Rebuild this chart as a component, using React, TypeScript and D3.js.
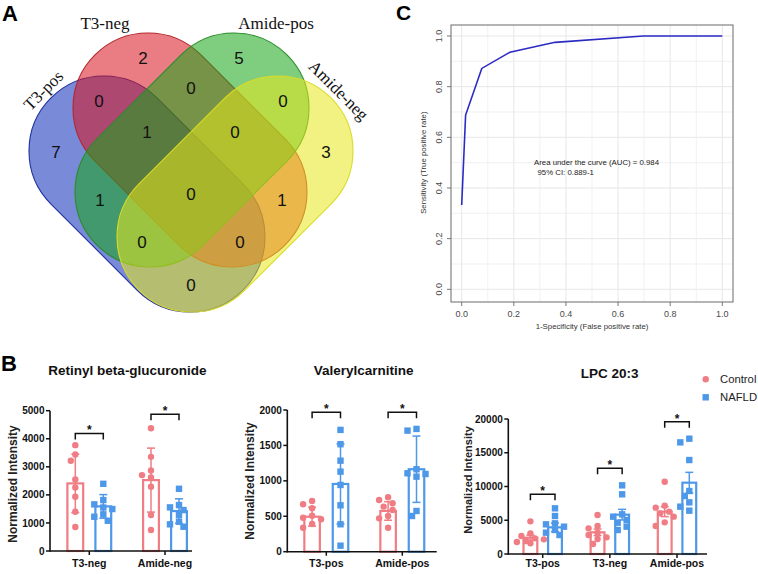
import React, { useMemo } from 'react';
import * as d3 from 'd3';

const W = 758;
const H = 574;
const SANS = "'Liberation Sans', Arial, Helvetica, sans-serif";
const SERIF = "'Liberation Serif', 'Times New Roman', serif";

// ---------------- Panel A: Venn ----------------
const vennSetNames = ['T3-pos', 'T3-neg', 'Amide-pos', 'Amide-neg'];
const vennRegionKeys = ['1000', '0100', '0010', '0001', '1100', '0110', '0011', '1010', '0101', '1110', '0111', '1111', '1011', '1101', '1001'];
const vennRegionCounts = [7, 2, 5, 3, 0, 0, 0, 1, 1, 1, 0, 0, 0, 0, 0];

// ---------------- Panel C: ROC ----------------
const rocFpr = [0, 0.015, 0.077, 0.185, 0.358, 0.697, 1.0];
const rocTpr = [0.333, 0.688, 0.872, 0.936, 0.975, 1.0, 1.0];
const rocTicks = [0, 0.2, 0.4, 0.6, 0.8, 1.0];
const rocAucLines = ['Area under the curve (AUC) = 0.984', '95% CI: 0.889-1'];

// ---------------- Panel B: bar charts ----------------
const groups = ['Control', 'NAFLD'];

const retinylCats = ['T3-neg', 'Amide-neg'];
const retinylControlPts = [[3772, 3441, 3214, 2552, 2267, 1932, 1399, 854], [4377, 3356, 2872, 2705, 2623, 2288, 1281, 747]];
const retinylNafldPts = [[2395, 1815, 1662, 1550, 1495, 1306, 1221, 1078], [2217, 1637, 1555, 1459, 1281, 1043, 950, 865]];
const retinylControlMean = [2409, 2527];
const retinylNafldMean = [1590, 1423];
const retinylControlErr = [1040, 1140];
const retinylNafldErr = [420, 437];
const retinylSig = [4190, 4870];

const valerylCats = ['T3-pos', 'Amide-pos'];
const valerylControlPts = [[716, 669, 613, 508, 480, 458, 391, 339], [768, 730, 684, 636, 589, 504, 471, 339]];
const valerylNafldPts = [[1719, 1517, 1285, 1130, 942, 655, 387, 85], [1733, 1709, 1164, 1107, 1097, 1059, 575, 504]];
const valerylControlMean = [494, 575];
const valerylNafldMean = [956, 1164];
const valerylControlErr = [133, 131];
const valerylNafldErr = [565, 468];
const valerylSig = [1970, 1970];

const lpcCats = ['T3-pos', 'T3-neg', 'Amide-pos'];
const lpcControlPts = [[4839, 3062, 2666, 2320, 2172, 1925, 1777, 1580], [5776, 4147, 3802, 3160, 2814, 2468, 2221, 1481], [10707, 7159, 6863, 6272, 6024, 5530, 4690, 4147]];
const lpcNafldPts = [[6765, 5628, 4542, 4395, 4049, 3555, 3160, 2814], [10174, 8842, 5876, 5530, 5036, 4642, 4049, 3555], [17081, 16538, 13920, 9330, 8590, 7652, 7010, 6418]];
const lpcControlMean = [2415, 3210, 6272];
const lpcNafldMean = [3951, 5827, 10568];
const lpcControlErr = [370, 485, 740];
const lpcNafldErr = [650, 790, 1530];
const lpcSig = [8850, 12700, 19600];

// ---------------- styles / layout ----------------
const CONTROL_COLOR = '#f07c84';
const NAFLD_COLOR = '#4d98e8';
const AXIS_COLOR = '#111';

const VCX = 191;
const VR = 75;
const vennCapsules = [
  { x1: VCX - 87, y1: 151, x2: VCX - 1, y2: 237, fill: '#0a2ab8', stroke: '#1c2f9e' },
  { x1: VCX - 43, y1: 108, x2: VCX + 41, y2: 192, fill: '#d8121e', stroke: '#b3262c' },
  { x1: VCX + 43, y1: 108, x2: VCX - 41, y2: 192, fill: '#16a616', stroke: '#2a8c2a' },
  { x1: VCX + 87, y1: 151, x2: VCX + 1, y2: 237, fill: '#e8e81c', stroke: '#dada2a' },
];

function capsuleSdf(px: number, py: number, c: any) {
  const dx = c.x2 - c.x1;
  const dy = c.y2 - c.y1;
  const l2 = dx * dx + dy * dy;
  let t = ((px - c.x1) * dx + (py - c.y1) * dy) / l2;
  t = Math.max(0, Math.min(1, t));
  const qx = c.x1 + t * dx - px;
  const qy = c.y1 + t * dy - py;
  return Math.sqrt(qx * qx + qy * qy) - VR;
}

function Venn() {
  const labelPos = useMemo(() => {
    const best: Record<string, { d: number; x: number; y: number }> = {};
    for (let py = 0; py < 330; py += 1) {
      for (let px = 0; px < 380; px += 1) {
        let key = '';
        let inner = Infinity;
        for (const c of vennCapsules) {
          const s = capsuleSdf(px, py, c);
          key += s < 0 ? '1' : '0';
          inner = Math.min(inner, Math.abs(s));
        }
        if (key === '0000') continue;
        if (!best[key] || inner > best[key].d) best[key] = { d: inner, x: px, y: py };
      }
    }
    return best;
  }, []);

  return (
    <g>
      <text x={2} y={21} fontFamily={SANS} fontWeight="bold" fontSize={22}>A</text>
      {vennCapsules.map((c, i) => {
        const cx = (c.x1 + c.x2) / 2;
        const cy = (c.y1 + c.y2) / 2;
        const len = Math.hypot(c.x2 - c.x1, c.y2 - c.y1);
        const ang = (Math.atan2(c.y2 - c.y1, c.x2 - c.x1) * 180) / Math.PI;
        return (
          <rect
            key={i}
            x={-len / 2 - VR}
            y={-VR}
            width={len + 2 * VR}
            height={2 * VR}
            rx={VR}
            ry={VR}
            transform={`translate(${cx},${cy}) rotate(${ang})`}
            fill={c.fill}
            fillOpacity={0.55}
            stroke={c.stroke}
            strokeWidth={1.1}
          />
        );
      })}
      {vennRegionKeys.map((k, i) => {
        const p = labelPos[k];
        if (!p) return null;
        return (
          <text key={k} x={p.x} y={p.y} dy="0.36em" textAnchor="middle" fontFamily={SANS} fontSize={17} fill="#111">
            {vennRegionCounts[i]}
          </text>
        );
      })}
      {/* set labels */}
      <text x={105} y={29} textAnchor="middle" fontFamily={SERIF} fontSize={17} fill="#111">{vennSetNames[1]}</text>
      <text x={276} y={29} textAnchor="middle" fontFamily={SERIF} fontSize={17} fill="#111">{vennSetNames[2]}</text>
      {(() => {
        const c = vennCapsules[0];
        const d = VR + 5;
        const bx = c.x1 - d * Math.SQRT1_2;
        const by = c.y1 - d * Math.SQRT1_2;
        return (
          <text transform={`translate(${bx},${by}) rotate(-45)`} textAnchor="middle" fontFamily={SERIF} fontSize={17} fill="#111">
            {vennSetNames[0]}
          </text>
        );
      })()}
      {(() => {
        const c = vennCapsules[3];
        const d = VR + 5;
        const bx = c.x1 + d * Math.SQRT1_2;
        const by = c.y1 - d * Math.SQRT1_2;
        return (
          <text transform={`translate(${bx},${by}) rotate(45)`} textAnchor="middle" fontFamily={SERIF} fontSize={17} fill="#111">
            {vennSetNames[3]}
          </text>
        );
      })()}
    </g>
  );
}

function Roc() {
  const box = { l: 451, t: 25, r: 733, b: 302 };
  const x = d3.scaleLinear().domain([0, 1]).range([461.7, 722.3]);
  const y = d3.scaleLinear().domain([0, 1]).range([289.3, 36]);
  const grid = d3.range(0, 11).map((i) => i / 10);
  const line = d3.line<number>().x((_, i) => x(rocFpr[i])).y((d) => y(d));
  return (
    <g>
      <text x={396} y={20} fontFamily={SANS} fontWeight="bold" fontSize={21}>C</text>
      {grid.map((g, i) => (
        <g key={i}>
          <line x1={x(g)} x2={x(g)} y1={box.t} y2={box.b} stroke={i % 2 === 0 ? '#e4e4e4' : '#efefef'} strokeWidth={0.9} />
          <line x1={box.l} x2={box.r} y1={y(g)} y2={y(g)} stroke={i % 2 === 0 ? '#e4e4e4' : '#efefef'} strokeWidth={0.9} />
        </g>
      ))}
      <path d={line(rocTpr) || ''} fill="none" stroke="#2b2bc4" strokeWidth={1.6} />
      <rect x={box.l} y={box.t} width={box.r - box.l} height={box.b - box.t} fill="none" stroke="#777" strokeWidth={1.1} />
      {rocTicks.map((t) => (
        <g key={t}>
          <line x1={x(t)} x2={x(t)} y1={box.b} y2={box.b + 4} stroke="#777" />
          <text x={x(t)} y={316.5} textAnchor="middle" fontFamily={SANS} fontSize={9} fill="#4a4a4a">{t.toFixed(1)}</text>
          <line x1={box.l - 4} x2={box.l} y1={y(t)} y2={y(t)} stroke="#777" />
          <text transform={`translate(439.3,${y(t)}) rotate(-90)`} dy="0.35em" textAnchor="middle" fontFamily={SANS} fontSize={9} fill="#4a4a4a">{t.toFixed(1)}</text>
        </g>
      ))}
      <text x={(x(0) + x(1)) / 2} y={329} textAnchor="middle" fontFamily={SANS} fontSize={7.8} fill="#333">1-Specificity (False positive rate)</text>
      <text transform={`translate(423,${(y(0) + y(1)) / 2}) rotate(-90)`} dy="0.35em" textAnchor="middle" fontFamily={SANS} fontSize={7.8} fill="#333">Sensitivity (True positive rate)</text>
      <text x={534} y={165} fontFamily={SANS} fontSize={7.8} fill="#222">{rocAucLines[0]}</text>
      <text x={537.5} y={175} fontFamily={SANS} fontSize={7.8} fill="#222">{rocAucLines[1]}</text>
    </g>
  );
}

function beeswarm(values: number[], yScale: (v: number) => number, minDist: number) {
  const placed: { x: number; y: number }[] = [];
  const cands = [0, -4.5, 4.5, -9, 9, -13.5, 13.5];
  return values.map((v) => {
    const py = yScale(v);
    let off = 0;
    for (const c of cands) {
      if (placed.every((p) => Math.hypot(p.x - c, p.y - py) >= minDist)) {
        off = c;
        break;
      }
    }
    placed.push({ x: off, y: py });
    return { x: off, y: py };
  });
}

function BarChart({ cfg }: { cfg: any }) {
  const { title, cats, ctrlPts, nafldPts, ctrlMean, nafldMean, ctrlErr, nafldErr, sig, yMax, yStep, L } = cfg;
  const y = d3.scaleLinear().domain([0, yMax]).range([L.yBottom, L.yTop]);
  const x = d3.scalePoint<string>().domain(cats).range([L.firstCat, L.lastCat]);
  const sub = d3
    .scaleBand<string>()
    .domain(groups)
    .range([-(L.barOff + L.barW / 2), L.barOff + L.barW / 2])
    .paddingInner((2 * L.barOff - L.barW) / (2 * L.barOff));
  const bw = sub.bandwidth();
  const ticks = d3.range(0, yMax + 1, yStep);
  const series = [
    { g: groups[0], pts: ctrlPts, mean: ctrlMean, err: ctrlErr, color: CONTROL_COLOR, shape: 'circle' },
    { g: groups[1], pts: nafldPts, mean: nafldMean, err: nafldErr, color: NAFLD_COLOR, shape: 'square' },
  ];
  return (
    <g fontFamily={SANS}>
      <text x={L.titleX} y={L.titleY} textAnchor="middle" fontWeight="bold" fontSize={13.5} fill="#111">{title}</text>
      <text transform={`translate(${L.labelX},${L.labelY}) rotate(-90)`} dy="0.35em" textAnchor="middle" fontWeight="bold" fontSize={L.labelSize} fill="#222">
        Normalized Intensity
      </text>
      {series.map((s) =>
        cats.map((c: string, ci: number) => {
          const cx = (x(c) as number) + (sub(s.g) as number) + bw / 2;
          const top = y(s.mean[ci]);
          const hi = y(s.mean[ci] + s.err[ci]);
          const lo = y(s.mean[ci] - s.err[ci]);
          const sw = beeswarm(s.pts[ci], y, 6.6);
          return (
            <g key={s.g + c}>
              <rect x={cx - bw / 2 + 1.1} y={top} width={bw - 2.2} height={y(0) - top} fill="#fff" stroke={s.color} strokeWidth={2.2} />
              <line x1={cx} x2={cx} y1={hi} y2={lo} stroke={s.color} strokeWidth={1.5} />
              <line x1={cx - 4} x2={cx + 4} y1={hi} y2={hi} stroke={s.color} strokeWidth={1.5} />
              <line x1={cx - 4} x2={cx + 4} y1={lo} y2={lo} stroke={s.color} strokeWidth={1.5} />
              {sw.map((p, i) =>
                s.shape === 'circle' ? (
                  <circle key={i} cx={cx + p.x} cy={p.y} r={3.2} fill={s.color} />
                ) : (
                  <rect key={i} x={cx + p.x - 3.2} y={p.y - 3.2} width={6.4} height={6.4} fill={s.color} />
                )
              )}
            </g>
          );
        })
      )}
      {/* axes */}
      <line x1={L.axisX} x2={L.axisX} y1={y(0) + 0.8} y2={y(yMax)} stroke={AXIS_COLOR} strokeWidth={1.6} />
      <line x1={L.axisX} x2={L.axisEnd} y1={y(0)} y2={y(0)} stroke={AXIS_COLOR} strokeWidth={1.6} />
      {ticks.map((t: number) => (
        <g key={t}>
          <line x1={L.axisX - 4} x2={L.axisX} y1={y(t)} y2={y(t)} stroke={AXIS_COLOR} strokeWidth={1.5} />
          <text x={L.axisX - 5.5} y={y(t)} dy="0.36em" textAnchor="end" fontWeight="bold" fontSize={10} fill="#111">{t}</text>
        </g>
      ))}
      {cats.map((c: string) => (
        <g key={c}>
          <line x1={x(c)} x2={x(c)} y1={y(0)} y2={y(0) + 4} stroke={AXIS_COLOR} strokeWidth={1.5} />
          <text x={x(c)} y={567} textAnchor="middle" fontWeight="bold" fontSize={10.5} fill="#111">{c}</text>
        </g>
      ))}
      {/* significance */}
      {cats.map((c: string, ci: number) => {
        const x1 = (x(c) as number) + (sub(groups[0]) as number) + bw / 2;
        const x2 = (x(c) as number) + (sub(groups[1]) as number) + bw / 2;
        const yb = y(sig[ci]);
        return (
          <g key={'s' + c}>
            <path d={`M${x1},${yb + 6}V${yb}H${x2}V${yb + 6}`} fill="none" stroke={AXIS_COLOR} strokeWidth={1.5} />
            <text x={(x1 + x2) / 2} y={yb + 1} textAnchor="middle" fontWeight="bold" fontSize={12} fill="#111">*</text>
          </g>
        );
      })}
    </g>
  );
}

const chartConfigs = [
  {
    title: 'Retinyl beta-glucuronide',
    cats: retinylCats,
    ctrlPts: retinylControlPts,
    nafldPts: retinylNafldPts,
    ctrlMean: retinylControlMean,
    nafldMean: retinylNafldMean,
    ctrlErr: retinylControlErr,
    nafldErr: retinylNafldErr,
    sig: retinylSig,
    yMax: 5000,
    yStep: 1000,
    L: { axisX: 50, axisEnd: 192, firstCat: 89.3, lastCat: 165, yTop: 410.7, yBottom: 551, titleX: 127.5, titleY: 374.5, labelX: 13, labelY: 484, labelSize: 12, barW: 18, barOff: 14 },
  },
  {
    title: 'Valerylcarnitine',
    cats: valerylCats,
    ctrlPts: valerylControlPts,
    nafldPts: valerylNafldPts,
    ctrlMean: valerylControlMean,
    nafldMean: valerylNafldMean,
    ctrlErr: valerylControlErr,
    nafldErr: valerylNafldErr,
    sig: valerylSig,
    yMax: 2000,
    yStep: 500,
    L: { axisX: 287.3, axisEnd: 436.7, firstCat: 326.3, lastCat: 402.3, yTop: 410, yBottom: 551.7, titleX: 363.7, titleY: 374.5, labelX: 250, labelY: 481, labelSize: 12, barW: 17.7, barOff: 14.2 },
  },
  {
    title: 'LPC 20:3',
    cats: lpcCats,
    ctrlPts: lpcControlPts,
    nafldPts: lpcNafldPts,
    ctrlMean: lpcControlMean,
    nafldMean: lpcNafldMean,
    ctrlErr: lpcControlErr,
    nafldErr: lpcNafldErr,
    sig: lpcSig,
    yMax: 20000,
    yStep: 5000,
    L: { axisX: 508.3, axisEnd: 707, firstCat: 542.7, lastCat: 677, yTop: 419, yBottom: 554, titleX: 609.7, titleY: 377.5, labelX: 468.3, labelY: 480, labelSize: 11, barW: 16, barOff: 12.3 },
  },
];

function Legend() {
  return (
    <g fontFamily={SANS}>
      <circle cx={705.7} cy={379.3} r={3.2} fill={CONTROL_COLOR} />
      <text x={720} y={379.3} dy="0.36em" fontSize={11.3} fill="#222">{groups[0]}</text>
      <rect x={705.7 - 3.2} y={397.3 - 3.2} width={6.4} height={6.4} fill={NAFLD_COLOR} />
      <text x={720} y={397.3} dy="0.36em" fontSize={11.3} fill="#222">{groups[1]}</text>
    </g>
  );
}

export default function App() {
  return (
    <svg width={W} height={H} viewBox={`0 0 ${W} ${H}`} style={{ position: 'absolute', left: 0, top: 0, background: '#fff' }}>
      <rect width={W} height={H} fill="#fff" />
      <Venn />
      <Roc />
      <text x={1} y={370.5} fontFamily={SANS} fontWeight="bold" fontSize={22}>B</text>
      {chartConfigs.map((cfg, i) => (
        <BarChart key={i} cfg={cfg} />
      ))}
      <Legend />
    </svg>
  );
}
